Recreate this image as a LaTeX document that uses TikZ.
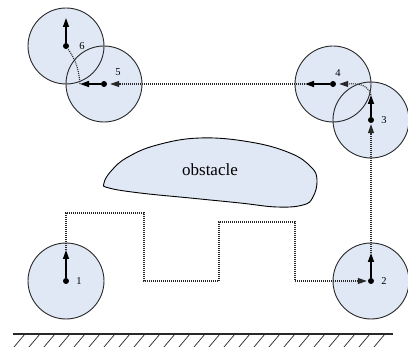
\documentclass[tikz,border=0pt]{standalone}
\usepackage{fontspec}
\setmainfont{Liberation Serif}
\usepackage{xcolor}
\usepackage{tikz}
\usetikzlibrary{arrows.meta, positioning}
\definecolor{bodyfill}{RGB}{224, 232, 246}
\definecolor{edgegray}{RGB}{40, 40, 40}

\begin{document}
\begin{tikzpicture}[
    x=1pt, y=1pt,
    robot/.style={circle, fill=bodyfill, minimum size=76pt, inner sep=0pt},
    dot/.style={circle, fill=black, minimum size=6pt, inner sep=0pt},
    heading/.style={-{Triangle[length=9pt, width=6pt]}, line width=1.5pt},
    trail/.style={line width=1.1pt, dash pattern=on 1pt off 1pt, edgegray},
    trailhead/.style={trail, -{Triangle[length=9pt, width=6pt]}, shorten >=1pt},
    label/.style={font=\fontsize{10.5}{12}\selectfont, inner sep=1pt}
]
\useasboundingbox (0,0) rectangle (408,350);

% ground with hatching
\draw[line width=1.4pt, edgegray] (13,16) -- (393,16);
\foreach \x in {25,40,...,392}
    \draw[line width=0.7pt, edgegray] (\x,16) -- ++(-11,-13);

% obstacle
\draw[line width=0.9pt, fill=bodyfill] plot[smooth cycle, tension=0.7] coordinates {
    (104,167) (112,180) (128,193) (157,205) (200,212) (250,208) (290,197) (311,183)
    (317,170) (313,153) (303,145) (277,143) (240,147) (190,152) (140,157) (109,162)};
\node[font=\fontsize{17}{20}\selectfont] (obs) at (210,180) {obstacle};

% robot poses (fill first, outlines after so overlaps show both rims)
\node[robot] (R6) at (66,304) {};
\node[robot] (R5) at (104,266) {};
\node[robot] (R4) at (333,266) {};
\node[robot] (R3) at (371,230) {};
\node[robot] (R1) at (66,69) {};
\node[robot] (R2) at (371,69) {};

\foreach \i in {1,...,6} {
    \draw[edgegray, line width=0.9pt] (R\i.center) circle[radius=38pt];
    \node[dot] (D\i) at (R\i.center) {};
}

% headings
\draw[heading] (D1) -- ++(0,31) coordinate (H1);
\draw[heading] (D2) -- ++(0,28) coordinate (H2);
\draw[heading] (D3) -- ++(0,25) coordinate (H3);
\draw[heading] (D4) -- ++(-28,0) coordinate (H4);
\draw[heading] (D5) -- ++(-24,0) coordinate (H5);
\draw[heading] (D6) -- ++(0,28) coordinate (H6);

% travelled path
\draw[trailhead] (H1) -- ++(0,37) -- ++(78,0) -- ++(0,-68) -- ++(75,0)
    -- ++(0,59) -- ++(76,0) |- (D2);
\draw[trailhead] (H2) -- (D3);
\draw[trailhead, shorten >=3pt] (H3) to[out=105, in=0] (D4);
\draw[trailhead, shorten >=3pt] (H4) -- (D5);
\draw[trail] (H5) to[out=95, in=-55] (D6);

% labels
\node[label, right=6pt of D1] (L1) {1};
\node[label, right=6pt of D2] (L2) {2};
\node[label, right=6pt of D3] (L3) {3};
\node[label, above right=4pt and -1pt of D4] (L4) {4};
\node[label, above right=5pt and 8pt of D5] (L5) {5};
\node[label, right=9pt of D6] (L6) {6};
\end{tikzpicture}
\end{document}
